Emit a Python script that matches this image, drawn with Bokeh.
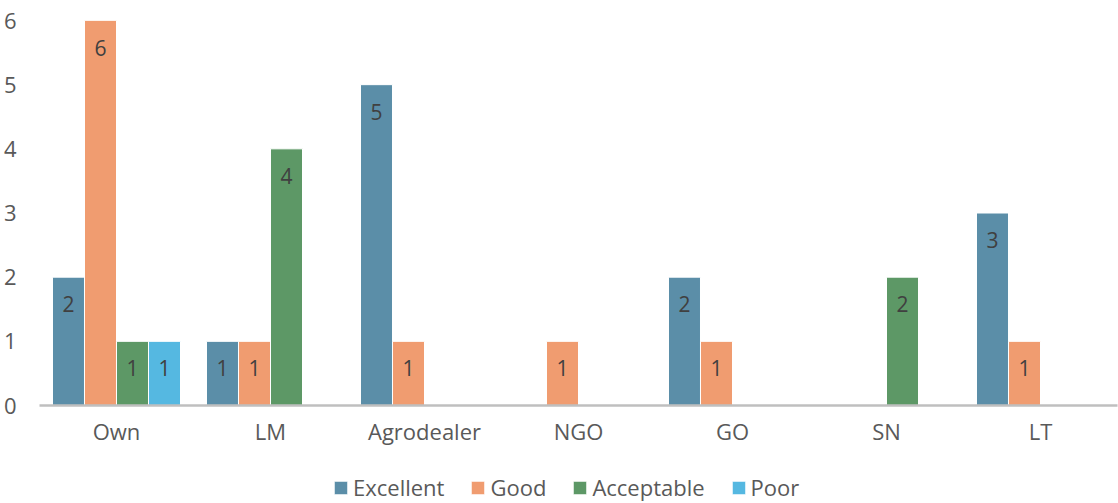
from bokeh.plotting import figure
from bokeh.layouts import column
from bokeh.models import ColumnDataSource, FixedTicker, Legend, LegendItem, Range1d
from bokeh.embed import file_html
from bokeh.resources import INLINE

# Sources rated per quality level
categories = ["Own", "LM", "Agrodealer", "NGO", "GO", "SN", "LT"]
series = ["Excellent", "Good", "Acceptable", "Poor"]
excellent = [2, 1, 5, 0, 2, 0, 3]
good = [6, 1, 1, 1, 1, 0, 1]
acceptable = [1, 4, 0, 0, 0, 2, 0]
poor = [1, 0, 0, 0, 0, 0, 0]
y_ticks = [0, 1, 2, 3, 4, 5, 6]

colors = ["#5B8EA8", "#F09C70", "#5D9866", "#55B8E1"]
values = [excellent, good, acceptable, poor]

FONT = "Open Sans"
TEXT_COLOR = "#595959"
FS = "22px"

p = figure(
    width=1118, height=460,
    x_range=Range1d(-0.5, len(categories) - 0.5),
    y_range=Range1d(0, 6),
    output_backend="svg", toolbar_location=None,
    min_border_left=39, min_border_right=1, min_border_top=20, min_border_bottom=55,
)
p.outline_line_color = None
p.xgrid.visible = False
p.ygrid.visible = False

bar_w = 0.2078
offsets = [-1.5 * bar_w, -0.5 * bar_w, 0.5 * bar_w, 1.5 * bar_w]

for name, vals, col, off in zip(series, values, colors, offsets):
    xs = [i + off for i, v in enumerate(vals) if v > 0]
    ys = [v for v in vals if v > 0]
    src = ColumnDataSource(dict(x=xs, top=ys, lbl=[str(v) for v in ys]))
    p.vbar(x="x", top="top", bottom=0, width=bar_w, source=src,
           fill_color=col, line_color="white", line_width=1)
    p.text(x="x", y="top", text="lbl", source=src, y_offset=27,
           text_align="center", text_baseline="middle",
           text_font_size="21px", text_color="#404040",
           text_font={"value": FONT})

# x axis: category names under each group
p.xaxis.ticker = FixedTicker(ticks=list(range(len(categories))))
p.xaxis.major_label_overrides = {i: c for i, c in enumerate(categories)}
p.xaxis.axis_line_color = "#BFBFBF"
p.xaxis.axis_line_width = 2.5
p.xaxis.major_tick_line_color = None
p.xaxis.minor_tick_line_color = None
p.xaxis.major_tick_out = 0
p.xaxis.major_tick_in = 0
p.xaxis.major_label_standoff = 10
p.xaxis.major_label_text_font_size = FS
p.xaxis.major_label_text_color = TEXT_COLOR
p.xaxis.major_label_text_font = FONT

# y axis: plain numbers, no line or ticks
p.yaxis.ticker = FixedTicker(ticks=y_ticks)
p.yaxis.axis_line_color = None
p.yaxis.major_tick_line_color = None
p.yaxis.minor_tick_line_color = None
p.yaxis.major_tick_out = 0
p.yaxis.major_tick_in = 0
p.yaxis.major_label_standoff = 23
p.yaxis.major_label_text_font_size = FS
p.yaxis.major_label_text_color = TEXT_COLOR
p.yaxis.major_label_text_font = FONT

# separate strip holding the series legend
leg_fig = figure(width=1118, height=43, output_backend="svg", toolbar_location=None,
                 x_axis_location=None, y_axis_location=None,
                 min_border_left=0, min_border_right=0, min_border_top=10,
                 min_border_bottom=0, x_range=Range1d(0, 1), y_range=Range1d(0, 1))
leg_fig.grid.visible = False
leg_fig.outline_line_color = None
items = []
for name, col in zip(series, colors):
    # parked outside the strip's range: only its legend swatch shows
    r = leg_fig.quad(left=[5], right=[6], bottom=[0], top=[1], fill_color=col,
                     line_color="white", line_width=1)
    items.append(LegendItem(label=name, renderers=[r]))
legend = Legend(items=items, orientation="horizontal", location=(293, 1),
                glyph_width=17, glyph_height=17, label_standoff=4, spacing=25,
                label_text_font_size=FS, label_text_color=TEXT_COLOR,
                label_text_font=FONT, border_line_color=None,
                background_fill_alpha=0, padding=2, margin=0)
leg_fig.add_layout(legend, "center")

layout = column(p, leg_fig, spacing=0)
open("out.html", "w").write(file_html(layout, INLINE))
